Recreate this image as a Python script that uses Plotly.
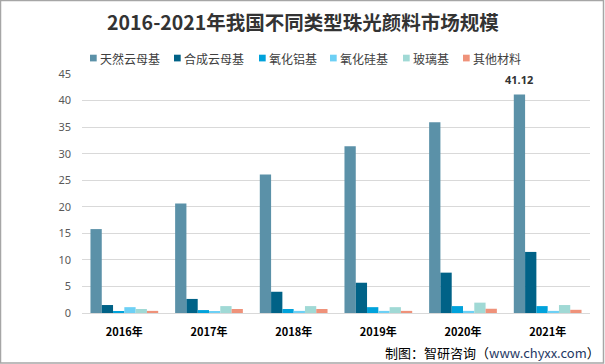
import plotly.graph_objects as go

years = ["2016年", "2017年", "2018年", "2019年", "2020年", "2021年"]
series_names = ["天然云母基", "合成云母基", "氧化铝基", "氧化硅基", "玻璃基", "其他材料"]
natural_mica = [15.8, 20.6, 26.1, 31.4, 35.9, 41.12]
synthetic_mica = [1.5, 2.65, 4.0, 5.7, 7.6, 11.5]
alumina = [0.25, 0.55, 0.75, 1.1, 1.3, 1.3]
silica = [1.1, 0.2, 0.4, 0.4, 0.4, 0.4]
glass = [0.75, 1.3, 1.3, 1.1, 1.95, 1.5]
other = [0.4, 0.75, 0.75, 0.4, 0.8, 0.6]
y_ticks = [0, 5, 10, 15, 20, 25, 30, 35, 40, 45]

colors = ["#5B91A8", "#006287", "#00A2DB", "#6DD0F5", "#A0D9D5", "#EF927A"]
values = [natural_mica, synthetic_mica, alumina, silica, glass, other]

W, H = 605, 364
ml, mr, mt, mb = 82, 15, 74, 51
pw, ph = W - ml - mr, H - mt - mb


def px_x(px):
    return (px - ml) / pw


def px_y(py):
    return (H - mb - py) / ph


fig = go.Figure()
for i, (name, vals) in enumerate(zip(series_names, values)):
    fig.add_trace(go.Bar(x=years, y=vals, name=name, marker_color=colors[i],
                         marker_line_width=0, showlegend=False))

annotations = []
shapes = []

# manual legend
legend_sq_x = [90, 174, 259, 330, 403, 463]
legend_y = 58
for i, name in enumerate(series_names):
    x0 = legend_sq_x[i]
    shapes.append(dict(type="rect", xref="paper", yref="paper",
                       x0=px_x(x0), x1=px_x(x0 + 6.7), y0=px_y(legend_y + 3.4), y1=px_y(legend_y - 3.3),
                       line=dict(width=0), fillcolor=colors[i], layer="above"))
    annotations.append(dict(text=name, xref="paper", yref="paper", x=px_x(x0 + 7.5), y=px_y(legend_y),
                            xanchor="left", yanchor="middle", showarrow=False,
                            font=dict(size=12, color="#404040", family="Noto Sans CJK SC")))

# data label
annotations.append(dict(text=f"<b>{natural_mica[-1]:.2f}</b>", x=years[-1], y=natural_mica[-1],
                        xref="x", yref="y", xshift=-28.3, yshift=15, yanchor="middle",
                        showarrow=False, font=dict(size=11, color="#333333", family="Noto Sans")))

# source
annotations.append(dict(text="制图：智研咨询（<span style='color:#1F3864'>www.chyxx.com</span>）",
                        xref="paper", yref="paper", x=px_x(602), y=px_y(352),
                        xanchor="right", yanchor="middle", showarrow=False,
                        font=dict(size=13, color="#000000", family="Noto Sans CJK SC")))

# border
shapes.append(dict(type="rect", xref="paper", yref="paper",
                   x0=px_x(0.5), x1=px_x(W - 1.5), y0=px_y(H - 1), y1=px_y(0.5),
                   line=dict(color="#A6A6A6", width=1.5), fillcolor="rgba(0,0,0,0)", layer="above"))

fig.update_layout(
    width=W, height=H,
    margin=dict(l=ml, r=mr, t=mt, b=mb),
    paper_bgcolor="white", plot_bgcolor="white",
    barmode="group", bargap=0.2, bargroupgap=0,
    font=dict(family="Noto Sans CJK SC", size=11, color="#595959"),
    title=dict(text="<b>2016-2021年我国不同类型珠光颜料市场规模</b>", xref="container", x=303 / W,
               xanchor="center", y=1 - 23 / H, yanchor="middle",
               font=dict(size=19.5, color="#333333", family="Noto Sans CJK SC")),
    showlegend=False,
    xaxis=dict(showgrid=False, showline=True, linecolor="#D9D9D9", linewidth=1, ticks="",
               tickvals=years, ticktext=[f"<b>{y}</b>" for y in years],
               tickfont=dict(size=11, color="#000000", family="Noto Sans CJK SC"),
               ticklabelstandoff=9),
    yaxis=dict(range=[0, 45], tickvals=y_ticks, showgrid=True, gridcolor="#D9D9D9", gridwidth=1,
               zeroline=False, ticks="", tickfont=dict(size=11, color="#595959", family="Noto Sans"),
               ticklabelstandoff=10),
    annotations=annotations,
    shapes=shapes,
)
fig.write_html("out.html", config={"displayModeBar": False},
               post_script="document.body.style.margin='0';")
